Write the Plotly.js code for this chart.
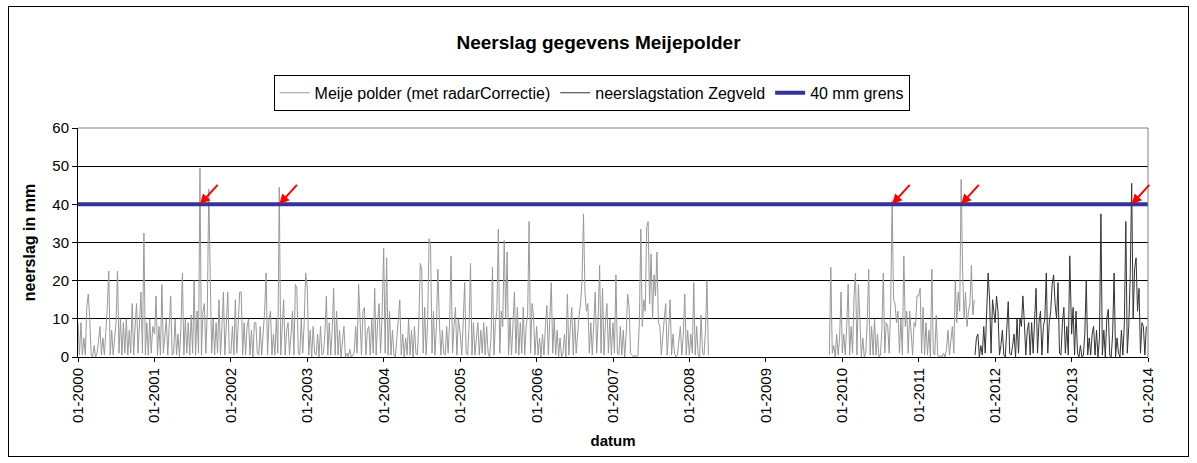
<!DOCTYPE html>
<html>
<head>
<meta charset="utf-8">
<script src="https://cdn.plot.ly/plotly-3.0.1.min.js"></script>
<style>
  html, body { margin: 0; padding: 0; background: #fff; }
  #wrap { position: relative; width: 1197px; height: 463px; }
  #chart { position: absolute; left: 0; top: 0; width: 1197px; height: 463px; }
  #frame { position: absolute; left: 8px; top: 6px; width: 1179px; height: 449px;
           border: 1px solid #000; pointer-events: none; }
</style>
</head>
<body>
<div id="wrap">
  <div id="chart"></div>
  <div id="frame"></div>
</div>
<script>
// ---- weekly readings (mm), each array starts at its segment start date, step 7 days ----
const meije2000 = [9,0.5,9,0.5,5,0.5,13,16.5,10,0.5, 0,3,0,1,4,8,0.5,5,0.5,6, 13,22.5,0.5,7,0.5,5,9,22.5,1,10, 0.5,9,1,10,0.5,7,1,14,0.5,8, 14,1,10,17,1,32.5,0.5,9,0.5,10, 1,8];
const meije2001 = [6,16,0.5,8,0.5,19,1,7,10,0.5, 8,16,0.5,1,10,0.5,6,0,8,22, 0.5,10,1,9,0.5,11,1,20,0.5,12, 1,49.5,0.5,12,14,1,12,44,21,1, 10,0.5,9,1,15,0.5,8,17,0.5,9, 17,1];
const meije2002 = [1,8,0.5,15,1,9,17,17,0.5,9, 0.5,8,10,0.5,7,0,9,9,1,0.5, 8,0.5,7,12,22,0.5,10,12,0.5,6, 0.5,10,1,44.5,0.5,8,15,0.5,7,9, 0.5,6,12,0.5,19,18,1,0.5,10,1, 9,22];
const meije2003 = [18,0.5,7,0,8,1,0.5,6,0,8, 0.5,1,6,16,0.5,9,0.5,7,18,0.5, 12,0.5,7,0,5,8,0,1,0,2, 0,0.5,1,8,1,19,9,0.5,12,13, 0.5,7,8,0.5,10,1,18,0.5,9,14, 1,10];
const meije2004 = [28.5,1,26,0.5,12,0.5,7,0.5,0,5, 8,15,0.5,6,0,5,0.5,10,0.5,7, 0,8,1,0.5,9,24.5,23,1,13,0.5, 9,31,29.5,1,12,0.5,8,23,10,0.5, 7,1,0.5,8,1,9,26.5,1,8,13, 0.5,10];
const meije2005 = [6,0.5,9,19.5,1,0.5,8,24.5,0.5,9, 0.5,6,9,0.5,7,1,9,0.5,8,1, 0,5,23.5,0.5,9,12,33.5,1,12,8, 30.5,10,27.5,0.5,10,0.5,8,17,1,13, 0.5,9,1,13,0.5,8,11,35.5,1,14, 11,0.5];
const meije2006 = [8,0.5,5,0,6,0.5,8,13.5,0.5,9, 19.5,1,10,0.5,7,0,5,0,1,6, 0,16.5,0.5,8,13,0.5,10,1,7,11, 14,20,37.5,17,12,14,1,9,0.5,8, 17,1,10,24,1,18,0.5,9,14,1, 10,0.5];
const meije2007 = [9,1,21.5,1,0.5,8,0.5,7,0,6, 16.5,13,1,0.5,0,0.5,0,0.5,9,33.5, 8,15,12,34,35.5,14,27,10,21.5,16, 27.5,9,8,0.5,6,10,14,0.5,7,15, 0.5,6,1,0,0.5,5,8,0.5,6,16.5, 0.5,7];
const meije2008 = [0.5,6,1,19.5,0.5,8,0.5,0,11,1,0.5,7,20,0.5];
const meije2009 = [0.5,23.5,1,3,0,6,0.5,5,17];
const meije2010 = [1,6,0.5,8,19,0.5,8,1,16,22, 0.5,19,7,0,5,0,1,9,23,0.5, 8,0.5,10,0.5,6,0,0.5,7,22,1, 9,8,1,13,41,15,14,9,12,1, 10,0.5,26.5,8,12,1,12,7,0.5,9, 8,16];
const meije2011 = [16,18,1,13,0.5,9,0.5,7,0,23, 1,0.5,11,0.5,0,0.5,0,1,0,2, 7,0.5,5,8,1,20,9,17,12,46.5, 22.5,10,17,8,12,14,24,11,15];

const zegveld2011 = [0.5,5,6,0,3,0.5,8,1,12,22,15,1,15,10];
const zegveld2012 = [9,16,12,0.5,3,7,0.5,0,6,14.5, 1,0.5,3,6,0,10,1,10,8,16, 9,0.5,7,9,0.5,9,1,8,18,1, 9,12,0.5,8,10,22,1,9,12,19, 21.5,14,10,19.5,1,0.5,9,13,1,8, 0.5,26.5];
const zegveld2013 = [6,13,0.5,12,1,0,3,0,0.5,6, 20,0.5,5,0.5,6,8,0.5,7,0,5, 37.5,0.5,7,0,10,12.5,0.5,0,6,22, 0,5,1,0,7,0.5,9,35.5,1,8, 21.5,45.5,10,23,26,12,18,1,9,8, 0.5,8];

const meijeStarts   = ['2000-01-01','2001-01-01','2002-01-01','2003-01-01','2004-01-01','2005-01-01','2006-01-01','2007-01-01','2008-01-01','2009-10-31','2010-01-01','2011-01-01'];
const zegveldStarts = ['2011-09-27','2012-01-01','2013-01-01'];

const grensDates  = ['2000-01-01','2014-01-01'];
const grensValues = [40, 40];

const arrowDates = ['2001-08-06','2002-08-20','2010-08-27','2011-07-23','2013-10-15'];

const tickDates  = ['2000-01-01','2001-01-01','2002-01-01','2003-01-01','2004-01-01','2005-01-01','2006-01-01','2007-01-01','2008-01-01','2009-01-01','2010-01-01','2011-01-01','2012-01-01','2013-01-01','2014-01-01'];
const tickLabels = ['01-2000','01-2001','01-2002','01-2003','01-2004','01-2005','01-2006','01-2007','01-2008','01-2009','01-2010','01-2011','01-2012','01-2013','01-2014'];

const seriesNames = ['Meije polder (met radarCorrectie)', 'neerslagstation Zegveld', '40 mm grens'];

// ---- build traces ----
const DAY = 86400000;
const iso = t => new Date(t).toISOString().slice(0, 10);
function buildSeries(starts, arrays) {
  const xs = [], ys = [];
  let prevEnd = null;
  starts.forEach((s, i) => {
    const t0 = Date.parse(s + 'T00:00:00Z');
    if (prevEnd !== null && t0 - prevEnd > 14 * DAY) { xs.push(iso(prevEnd + DAY)); ys.push(null); }
    arrays[i].forEach((v, k) => { xs.push(iso(t0 + 7 * k * DAY)); ys.push(v); });
    prevEnd = t0 + 7 * (arrays[i].length - 1) * DAY;
  });
  return { xs, ys };
}
const meije = buildSeries(meijeStarts, [meije2000, meije2001, meije2002, meije2003, meije2004, meije2005, meije2006, meije2007, meije2008, meije2009, meije2010, meije2011]);
const zeg = buildSeries(zegveldStarts, [zegveld2011, zegveld2012, zegveld2013]);

const FONT = 'Liberation Sans, Arial, Helvetica, sans-serif';

const traces = [
  { type: 'scatter', mode: 'lines', name: seriesNames[0], x: meije.xs, y: meije.ys,
    line: { color: '#999999', width: 1 }, connectgaps: false, hoverinfo: 'skip' },
  { type: 'scatter', mode: 'lines', name: seriesNames[1], x: zeg.xs, y: zeg.ys,
    line: { color: '#333333', width: 1 }, hoverinfo: 'skip' },
  { type: 'scatter', mode: 'lines', name: seriesNames[2], x: grensDates, y: grensValues,
    line: { color: '#333399', width: 4 }, hoverinfo: 'skip' }
];

const annotations = arrowDates.map(d => ({
  x: d, y: grensValues[0], xref: 'x', yref: 'y', text: '',
  showarrow: true, arrowhead: 2, arrowsize: 1, arrowwidth: 2, arrowcolor: '#ff0000',
  ax: 19, ay: -21, standoff: 0
}));

const layout = {
  width: 1197, height: 463,
  paper_bgcolor: '#ffffff', plot_bgcolor: '#ffffff',
  margin: { l: 78, r: 49, t: 128, b: 106, pad: 0 },
  font: { family: FONT, size: 15, color: '#000' },
  title: { text: 'Neerslag gegevens Meijepolder', font: { family: FONT, size: 19, color: '#000', weight: 'bold' },
           x: 0.5, xref: 'container', xanchor: 'center', y: 1 - 42 / 463, yref: 'container', yanchor: 'middle' },
  showlegend: true,
  legend: { orientation: 'h', x: 0.48, xanchor: 'center', y: 1.232, yanchor: 'top',
            bgcolor: '#ffffff', bordercolor: '#000000', borderwidth: 1,
            font: { family: FONT, size: 16, color: '#000' }, traceorder: 'normal' },
  xaxis: {
    type: 'date', range: ['2000-01-01', '2014-01-01'],
    tickmode: 'array', tickvals: tickDates, ticktext: tickLabels, tickangle: -90,
    ticks: 'outside', ticklen: 4, tickcolor: '#000', tickwidth: 1,
    showline: true, linecolor: '#000', linewidth: 1, showgrid: false, zeroline: false,
    tickfont: { family: FONT, size: 15, color: '#000' },
    title: { text: 'datum', font: { family: FONT, size: 15, color: '#000', weight: 'bold' }, standoff: 13 },
    automargin: false, fixedrange: true
  },
  yaxis: {
    range: [0, 60], tick0: 0, dtick: 10,
    ticks: 'outside', ticklen: 5, tickcolor: '#000', tickwidth: 1,
    showline: true, linecolor: '#000', linewidth: 1,
    showgrid: true, gridcolor: '#000', gridwidth: 1, zeroline: false,
    tickfont: { family: FONT, size: 15, color: '#000' },
    title: { text: 'neerslag in mm', font: { family: FONT, size: 16, color: '#000', weight: 'bold' }, standoff: 12 },
    automargin: false, fixedrange: true
  },
  shapes: [
    { type: 'line', xref: 'paper', yref: 'paper', x0: 0, x1: 1, y0: 1, y1: 1, line: { color: '#808080', width: 1 }, layer: 'above' },
    { type: 'line', xref: 'paper', yref: 'paper', x0: 1, x1: 1, y0: 0, y1: 1, line: { color: '#808080', width: 1 }, layer: 'above' }
  ],
  annotations: annotations
};

Plotly.newPlot('chart', traces, layout, { staticPlot: true, displayModeBar: false });
</script>
</body>
</html>
